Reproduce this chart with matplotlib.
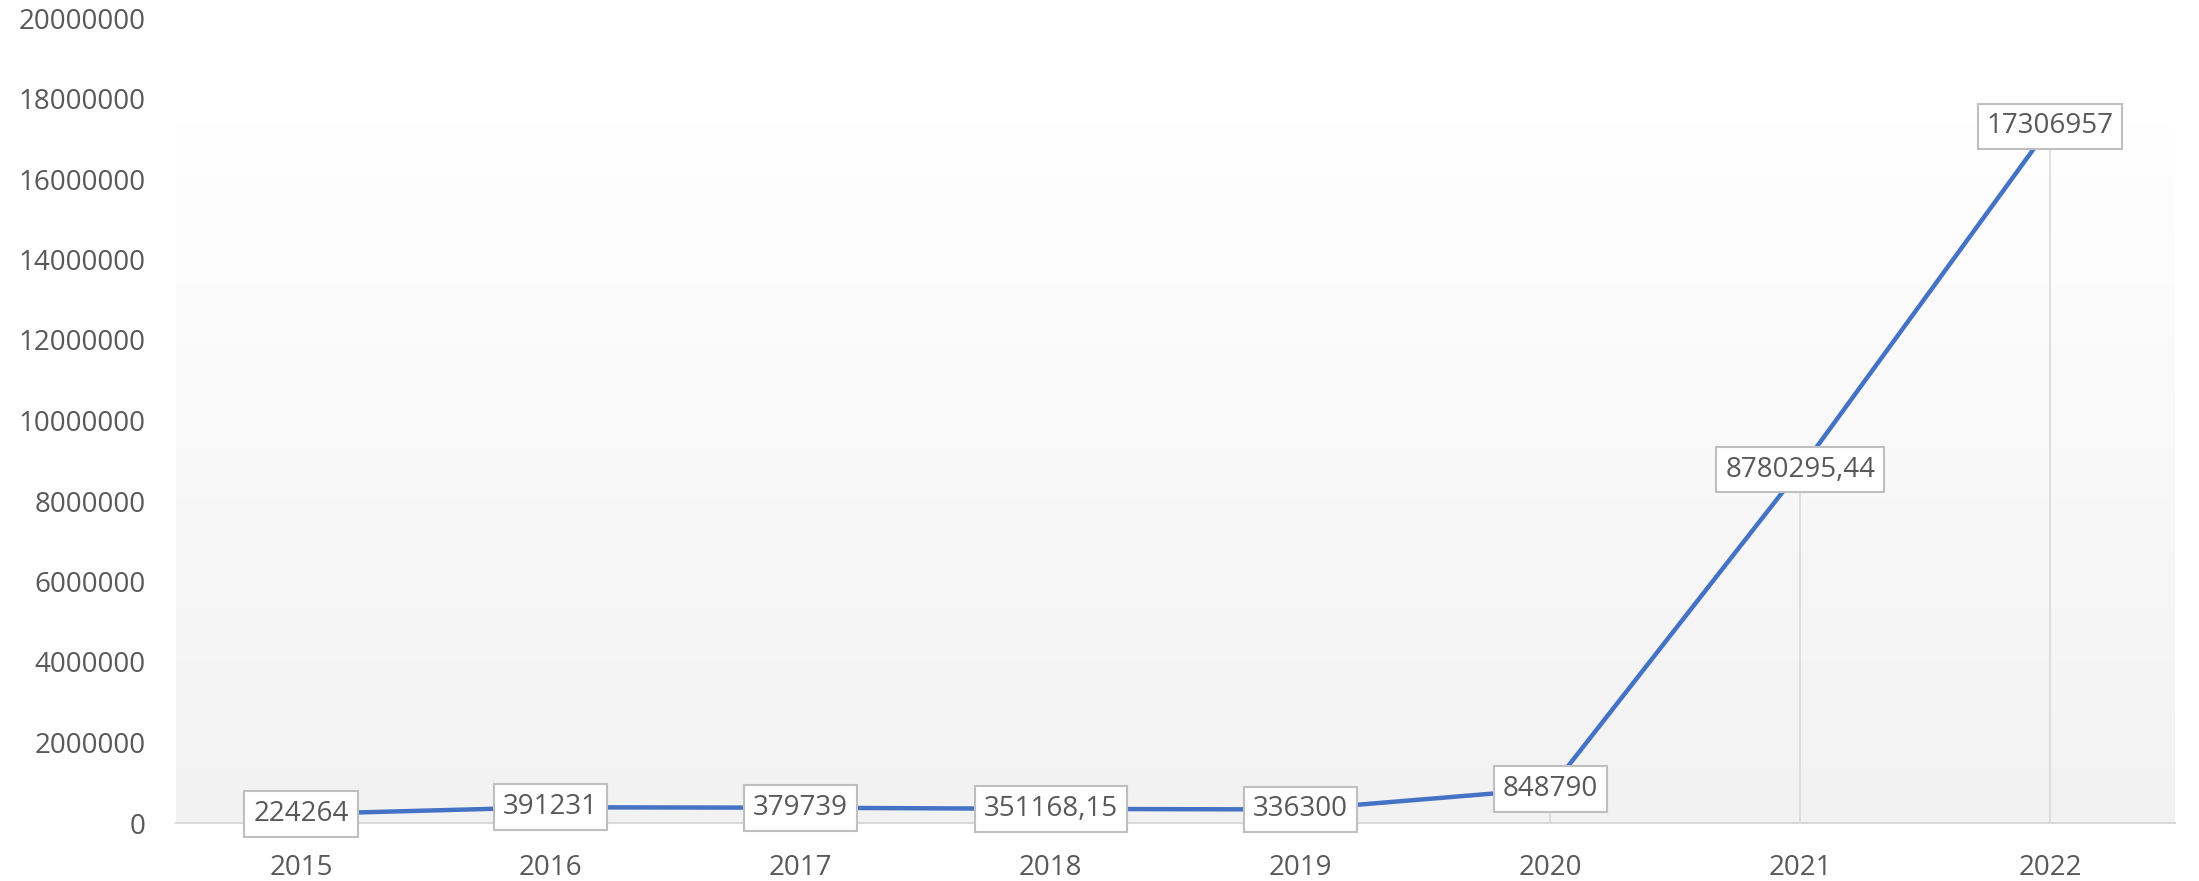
import matplotlib
matplotlib.use("Agg")
import matplotlib.pyplot as plt
import numpy as np

years = ["2015", "2016", "2017", "2018", "2019", "2020", "2021", "2022"]
values = [224264, 391231, 379739, 351168.15, 336300, 848790, 8780295.44, 17306957]
labels = ["224264", "391231", "379739", "351168,15", "336300", "848790", "8780295,44", "17306957"]
yticks = [0, 2000000, 4000000, 6000000, 8000000, 10000000, 12000000, 14000000,
          16000000, 18000000, 20000000]

plt.rcParams['font.family'] = ['Open Sans', 'DejaVu Sans']
txt = '#595959'

fig = plt.figure(figsize=(21.99, 8.81), dpi=100)
ax = fig.add_axes([176/2199, 58/881, (2175-176)/2199, (823-18)/881])
ax.set_facecolor('white')

x = np.arange(len(years))
ax.set_xlim(-0.5, len(years) - 0.5)
ax.set_ylim(0, 20000000)

# gradient plot-area fill
grad_top = (823 - 122) / (823 - 18)
g = np.linspace(0.949, 1.0, 256).reshape(-1, 1)
ax.imshow(np.dstack([g, g, g]), extent=[0, 1, 0, grad_top], transform=ax.transAxes,
          aspect='auto', origin='lower', zorder=0, interpolation='bilinear')

# drop lines
ax.vlines(x, 0, values, colors='#D9D9D9', linewidth=1.2, zorder=1)

ax.plot(x, values, color='#4472C4', linewidth=3.2, zorder=3, solid_capstyle='round')

for xi, v, lab in zip(x, values, labels):
    ax.text(xi, v, lab, ha='center', va='center', fontsize=20, color=txt, zorder=4,
            bbox=dict(boxstyle='square,pad=0.32', facecolor='white', edgecolor='#BFBFBF',
                      linewidth=1.5))

ax.set_xticks(x)
ax.set_xticklabels(years)
ax.set_yticks(yticks)
ax.set_yticklabels([str(t) for t in yticks])
ax.tick_params(axis='both', length=0, labelsize=20, labelcolor=txt)
ax.tick_params(axis='y', pad=22)
ax.tick_params(axis='x', pad=22)

for s in ['top', 'right', 'left']:
    ax.spines[s].set_visible(False)
ax.spines['bottom'].set_color('#D9D9D9')
ax.spines['bottom'].set_linewidth(1.5)
ax.spines['bottom'].set_zorder(2)

fig.savefig('out.png', dpi=100, facecolor='white')
